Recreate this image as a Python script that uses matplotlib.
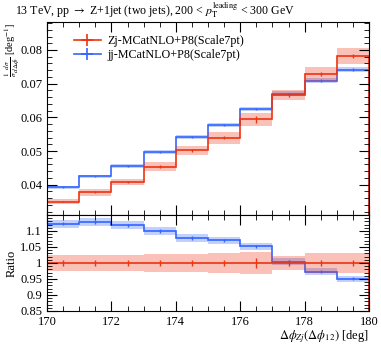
import numpy as np
import matplotlib
matplotlib.use("Agg")
import matplotlib.pyplot as plt
from matplotlib.ticker import MultipleLocator

plt.rcParams['font.family'] = ['Liberation Serif', 'DejaVu Serif']
plt.rcParams['mathtext.fontset'] = 'stix'

# bin edges in delta phi [deg]
edges = np.arange(170, 181, 1)

# normalised cross sections
zj = [0.0350, 0.0377, 0.0408, 0.0453, 0.0502, 0.0539, 0.0594, 0.0667, 0.0729, 0.0781]
jj = [0.0393, 0.0425, 0.0456, 0.0498, 0.0541, 0.0577, 0.0625, 0.0670, 0.0709, 0.0742]

# relative scale-variation bands
zj_band = [0.025, 0.025, 0.025, 0.029, 0.027, 0.031, 0.034, 0.022, 0.030, 0.030]
jj_band = [0.011, 0.011, 0.011, 0.011, 0.011, 0.011, 0.011, 0.011, 0.011, 0.011]

# relative stat errors
zj_stat = [0.008, 0.008, 0.008, 0.009, 0.008, 0.008, 0.017, 0.008, 0.008, 0.008]
jj_stat = [0.005, 0.005, 0.005, 0.005, 0.005, 0.005, 0.005, 0.005, 0.005, 0.005]

red = '#EE3311'
blue = '#3366FF'

zj = np.array(zj)
jj = np.array(jj)
zj_band = np.array(zj_band)
jj_band = np.array(jj_band)
zj_stat = np.array(zj_stat)
jj_stat = np.array(jj_stat)
centers = 0.5 * (edges[1:] + edges[:-1])

fig = plt.figure(figsize=(3.81, 3.44), dpi=100)
ax = fig.add_axes([0.1234, 0.375, 0.8451, 0.560])
rax = fig.add_axes([0.1234, 0.096, 0.8451, 0.279], sharex=ax)


def draw(a, vals, band, stat, color):
    a.stairs(vals * (1 + band), edges, baseline=vals * (1 - band), fill=True,
             color=color, alpha=0.3, lw=0)
    a.stairs(vals, edges, color=color, lw=1.2)
    a.errorbar(centers, vals, yerr=vals * stat, fmt='none', ecolor=color,
               elinewidth=1.0)


draw(ax, jj, jj_band, jj_stat, blue)
draw(ax, zj, zj_band, zj_stat, red)
ax.errorbar([np.nan], [np.nan], xerr=[1], yerr=[1], color=red, lw=1.2,
            label='Zj-MCatNLO+P8(Scale7pt)')
ax.errorbar([np.nan], [np.nan], xerr=[1], yerr=[1], color=blue, lw=1.2,
            label='jj-MCatNLO+P8(Scale7pt)')

ratio = jj / zj
draw(rax, ratio, jj_band, jj_stat, blue)
draw(rax, np.ones_like(zj), zj_band, zj_stat, red)

ax.set_xlim(170, 180)
ax.set_ylim(0.031, 0.0882)
rax.set_ylim(0.85, 1.1499)

for a in (ax, rax):
    a.tick_params(which='both', direction='in', top=True, right=True,
                  labelsize=9)
    a.tick_params(which='major', length=7)
    a.tick_params(which='minor', length=3.5)
    a.xaxis.set_major_locator(MultipleLocator(2))
    a.xaxis.set_minor_locator(MultipleLocator(0.5))
ax.yaxis.set_major_locator(MultipleLocator(0.01))
ax.yaxis.set_minor_locator(MultipleLocator(0.002))
rax.yaxis.set_major_locator(MultipleLocator(0.05))
rax.yaxis.set_minor_locator(MultipleLocator(0.01))
ax.tick_params(labelbottom=False)
ax.yaxis.set_major_formatter(plt.FuncFormatter(lambda v, p: f'{v:.2f}'))
rax.yaxis.set_major_formatter(plt.FuncFormatter(lambda v, p: f'{v:g}'))

ax.legend(loc='upper left', bbox_to_anchor=(0.05, 0.99), frameon=False,
          fontsize=8.7, handlelength=2.2, handletextpad=0.6, labelspacing=0.15)

fig.text(0.04, 1 - 15 / 344,
         r'13 TeV, pp $\rightarrow$ Z+1jet (two jets), 200 < $p_{\mathrm{T}}^{\mathrm{leading}}$ < 300 GeV',
         fontsize=8.6, va='baseline', ha='left')
ax.set_ylabel(r'$\frac{1}{\sigma}\frac{d\sigma}{d\Delta\phi}$ [deg$^{-1}$]',
              fontsize=7.5, loc='top')
ax.yaxis.set_label_coords(-0.079, 1.0)
rax.set_ylabel('Ratio', fontsize=9)
rax.yaxis.set_label_coords(-0.09, 0.5)
rax.set_xlabel(r'$\Delta\phi_{Zj}(\Delta\phi_{12})$ [deg]', fontsize=9,
               loc='right', labelpad=0)

fig.savefig('out.png', dpi=100)
